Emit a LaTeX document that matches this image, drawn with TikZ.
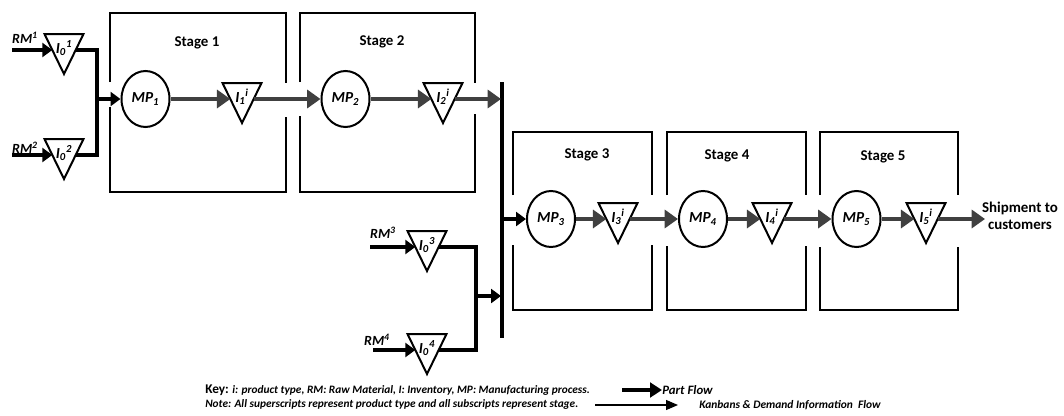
\documentclass[tikz,border=0pt]{standalone}
\usepackage{fontspec}
\setmainfont{Carlito}
\usetikzlibrary{shapes.geometric,arrows.meta,calc}
\definecolor{garr}{HTML}{404040}
\begin{document}
\begin{tikzpicture}[x=0.75pt,y=-0.75pt,
  box/.style={line width=1.25pt},
  mp/.style={ellipse,draw,line width=1.5pt,minimum width=36pt,minimum height=42pt,inner sep=0pt,font=\bfseries\itshape\fontsize{11.5}{13}\selectfont},
  invt/.style={inner sep=0pt,font=\bfseries\itshape\fontsize{11.5}{13}\selectfont},
  tri/.style={line width=1.5pt,line join=miter},
  stagelbl/.style={font=\bfseries\fontsize{11.2}{13}\selectfont},
  rmlbl/.style={font=\bfseries\itshape\fontsize{10.5}{12}\selectfont,inner sep=0pt},
  bline/.style={line width=2.3pt},
  barrow/.style={line width=2.3pt,-{Triangle[length=7.5pt,width=10.5pt]}},
  garrow/.style={line width=3pt,draw=garr,-{Triangle[length=10pt,width=13.5pt,fill=garr]}},
  legtext/.style={font=\bfseries\itshape\fontsize{8.6}{10}\selectfont,inner sep=0pt},
]
\useasboundingbox (0,0) rectangle (1064,415);

% stage boxes
\draw[box] (110,82) |- (286,13) -- (286,83);
\draw[box] (110,107) |- (286,192) -- (286,117);
\draw[box] (300,82) |- (475,13) -- (475,83);
\draw[box] (300,116) |- (475,192) -- (475,114);
\draw[box] (513,195) |- (652,132) -- (652,195);
\draw[box] (513,245) |- (652,310) -- (652,245);
\draw[box] (667,195) |- (806,132) -- (806,195);
\draw[box] (667,246) |- (806,310) -- (806,246);
\draw[box] (820,195) |- (958,132) -- (958,195);
\draw[box] (820,247) |- (958,310) -- (958,247);

\node[stagelbl] (s1) at (197,43) {Stage 1};
\node[stagelbl] (s2) at (382,42) {Stage 2};
\node[stagelbl] (s3) at (587,155) {Stage 3};
\node[stagelbl] (s4) at (727,156) {Stage 4};
\node[stagelbl] (s5) at (883,157) {Stage 5};

% manufacturing processes
\node[mp] (mp1) at (145.5,99) {MP\textsubscript{1}};
\node[mp] (mp2) at (345.5,99) {MP\textsubscript{2}};
\node[mp] (mp3) at (551,219) {MP\textsubscript{3}};
\node[mp] (mp4) at (703,219) {MP\textsubscript{4}};
\node[mp] (mp5) at (856.5,219) {MP\textsubscript{5}};

% inventories (text nodes; triangles drawn around them)
\node[invt] (i01) at (64,48) {I\textsubscript{0}\textsuperscript{1}};
\node[invt] (i02) at (64,153) {I\textsubscript{0}\textsuperscript{2}};
\node[invt] (i03) at (427,245) {I\textsubscript{0}\textsuperscript{3}};
\node[invt] (i04) at (427,348) {I\textsubscript{0}\textsuperscript{4}};
\node[invt] (i1) at (242,97) {I\textsubscript{1}\textsuperscript{i}};
\node[invt] (i2) at (443,97) {I\textsubscript{2}\textsuperscript{i}};
\node[invt] (i3) at (618,217) {I\textsubscript{3}\textsuperscript{i}};
\node[invt] (i4) at (772,217) {I\textsubscript{4}\textsuperscript{i}};
\node[invt] (i5) at (926,217) {I\textsubscript{5}\textsuperscript{i}};
\foreach \n in {i01,i02,i03,i04,i1,i2,i3,i4,i5} {
  \draw[tri] ($(\n)+(-19.5,-14)$) -- ($(\n)+(19.5,-14)$) -- ($(\n)+(0,26)$) -- cycle;
  \coordinate (\n-w) at ($(\n)+(-11.7,2)$);
  \coordinate (\n-e) at ($(\n)+(11.7,2)$);
}

% raw material labels and inputs
\node[rmlbl] (rm1l) at (25,38) {RM\textsuperscript{1}};
\node[rmlbl] (rm2l) at (25,148) {RM\textsuperscript{2}};
\node[rmlbl] (rm3l) at (383,233) {RM\textsuperscript{3}};
\node[rmlbl] (rm4l) at (377,340) {RM\textsuperscript{4}};
\coordinate (rm1) at (12,50);
\coordinate (rm2) at (12,155);
\coordinate (rm3) at (370,247);
\coordinate (rm4) at (373,350);
\draw[barrow] (rm1) -- (i01-w);
\draw[barrow] (rm2) -- (i02-w);
\draw[barrow] (rm3) -- (i03-w);
\draw[barrow] (rm4) -- (i04-w);

% first merge
\coordinate (busA) at (97,99);
\draw[bline] (i01-e) -| (busA) |- (i02-e);
\draw[barrow] (busA) -- (mp1);

% stage 1-2 flow
\draw[garrow] (mp1) -- (i1-w);
\draw[garrow] (i1-e) -- (mp2);
\draw[garrow] (mp2) -- (i2-w);

% assembly bar
\coordinate (barT) at (502,82);
\coordinate (barB) at (502,338);
\coordinate (barU) at (501,99);
\coordinate (barM) at (502,219);
\coordinate (barL) at (501,296);
\draw[line width=2.5pt] (barT) -- (barB);
\draw[garrow] (i2-e) -- (barU);
\draw[barrow] (barM) -- (mp3);

% second merge
\coordinate (busB) at (476,296);
\draw[bline] (i03-e) -| (busB) |- (i04-e);
\draw[barrow] (busB) -- (barL);

% stage 3-5 flow
\draw[garrow] (mp3) -- (i3-w);
\draw[garrow] (i3-e) -- (mp4);
\draw[garrow] (mp4) -- (i4-w);
\draw[garrow] (i4-e) -- (mp5);
\draw[garrow] (mp5) -- (i5-w);
\node[stagelbl,align=center,inner sep=0pt] (ship) at (1020,216) {Shipment to\\customers};
\coordinate (shipA) at (985,219);
\draw[garrow] (i5-e) -- (shipA);

% key
\node[anchor=west,inner sep=0pt,font=\bfseries\itshape\fontsize{8.5}{10}\selectfont] (key1) at (205,390)
  {{\upshape\fontsize{10}{11}\selectfont Key:} i: product type, RM: Raw Material, I: Inventory, MP: Manufacturing process.};
\node[anchor=west,inner sep=0pt,font=\bfseries\itshape\fontsize{8.5}{10}\selectfont] (key2) at (205,404)
  {Note: All superscripts represent product type and all subscripts represent stage.};

% legend
\node[legtext,anchor=west,font=\bfseries\itshape\fontsize{9.6}{11}\selectfont] (pft) at (662,390) {Part Flow};
\coordinate (pfs) at (622,390);
\draw[line width=3pt,-{Triangle[length=9pt,width=11pt]}] (pfs) -- (pft.west);
\node[legtext,anchor=west] (kft) at (699,405) {Kanbans \& Demand Information\ \ Flow};
\coordinate (kfs) at (595,405);
\coordinate (kfe) at (678,405);
\draw[line width=0.9pt,-{Triangle[length=9pt,width=7.5pt]}] (kfs) -- (kfe);
\end{tikzpicture}
\end{document}
